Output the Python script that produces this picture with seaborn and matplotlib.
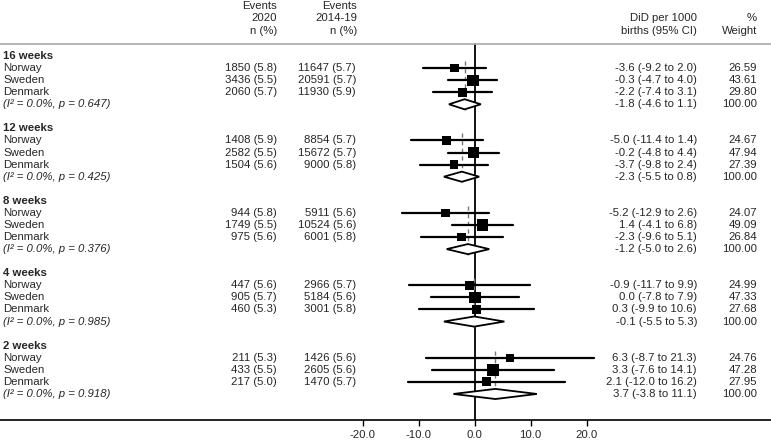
import numpy as np
import matplotlib
matplotlib.use("Agg")
import matplotlib.pyplot as plt
import seaborn as sns
import pandas as pd
from matplotlib.patches import Polygon

sns.set_theme(style="white")
plt.rcParams['font.family'] = ['Liberation Sans', 'DejaVu Sans']

# data
groups = ["16 weeks", "12 weeks", "8 weeks", "4 weeks", "2 weeks"]
countries = ["Norway", "Sweden", "Denmark"]
n2020 = [[1850, 3436, 2060], [1408, 2582, 1504], [944, 1749, 975], [447, 905, 460], [211, 433, 217]]
pct2020 = [[5.8, 5.5, 5.7], [5.9, 5.5, 5.6], [5.8, 5.5, 5.6], [5.6, 5.7, 5.3], [5.3, 5.5, 5.0]]
n1419 = [[11647, 20591, 11930], [8854, 15672, 9000], [5911, 10524, 6001], [2966, 5184, 3001], [1426, 2605, 1470]]
pct1419 = [[5.7, 5.7, 5.9], [5.7, 5.7, 5.8], [5.6, 5.6, 5.8], [5.7, 5.6, 5.8], [5.6, 5.6, 5.7]]
did = [[-3.6, -0.3, -2.2], [-5.0, -0.2, -3.7], [-5.2, 1.4, -2.3], [-0.9, 0.0, 0.3], [6.3, 3.3, 2.1]]
lo = [[-9.2, -4.7, -7.4], [-11.4, -4.8, -9.8], [-12.9, -4.1, -9.6], [-11.7, -7.8, -9.9], [-8.7, -7.6, -12.0]]
hi = [[2.0, 4.0, 3.1], [1.4, 4.4, 2.4], [2.6, 6.8, 5.1], [9.9, 7.9, 10.6], [21.3, 14.1, 16.2]]
weight = [[26.59, 43.61, 29.80], [24.67, 47.94, 27.39], [24.07, 49.09, 26.84], [24.99, 47.33, 27.68], [24.76, 47.28, 27.95]]
pool_est = [-1.8, -2.3, -1.2, -0.1, 3.7]
pool_lo = [-4.6, -5.5, -5.0, -5.5, -3.8]
pool_hi = [1.1, 0.8, 2.6, 5.3, 11.1]
het_p = [0.647, 0.425, 0.376, 0.985, 0.918]
xticks = [-20, -10, 0, 10, 20]

W, H = 771, 443
fig = plt.figure(figsize=(W / 100, H / 100), dpi=100)
ax = fig.add_axes([0, (H - 420) / H, 1, 420 / H])
x0px, pxper = 474.7, 5.6
ax.set_xlim(-x0px / pxper, (W - x0px) / pxper)
rowpx = 12.07
top_row = -56 / rowpx
bot_row = (420 - 56) / rowpx
ax.set_ylim(bot_row, top_row)

fs = 8.2
tr = ax.get_yaxis_transform()
def px(x):
    return x / W
def py(y):
    return (y - 56) / rowpx

# header
for txt, y in [("Events", 6), ("2020", 17.5), ("n (%)", 30.5)]:
    ax.text(px(277), py(y), txt, transform=tr, ha="right", va="center", fontsize=fs)
for txt, y in [("Events", 6), ("2014-19", 17.5), ("n (%)", 30.5)]:
    ax.text(px(357), py(y), txt, transform=tr, ha="right", va="center", fontsize=fs)
for txt, y in [("DiD per 1000", 17.5), ("births (95% CI)", 30.5)]:
    ax.text(px(697), py(y), txt, transform=tr, ha="right", va="center", fontsize=fs)
for txt, y in [("%", 17.5), ("Weight", 30.5)]:
    ax.text(px(757), py(y), txt, transform=tr, ha="right", va="center", fontsize=fs)
ax.axhline(-1, color="#aaaaaa", lw=1.2)

# build long table of study rows
rows = []
for g in range(len(groups)):
    base = g * 6
    for c in range(3):
        rows.append(dict(row=base + 1 + c, est=did[g][c], lo=lo[g][c], hi=hi[g][c], w=weight[g][c]))
df = pd.DataFrame(rows)

ax.axvline(0, ymin=0, ymax=(bot_row + 1) / (bot_row - top_row), color="black", lw=1.3, zorder=1)

for g in range(len(groups)):
    base = g * 6
    ax.text(px(3), base, groups[g], transform=tr, ha="left", va="center", fontsize=fs, fontweight="bold")
    for c in range(3):
        r = base + 1 + c
        ax.text(px(3), r, countries[c], transform=tr, ha="left", va="center", fontsize=fs)
        ax.text(px(277), r, f"{n2020[g][c]} ({pct2020[g][c]:.1f})", transform=tr, ha="right", va="center", fontsize=fs)
        ax.text(px(356), r, f"{n1419[g][c]} ({pct1419[g][c]:.1f})", transform=tr, ha="right", va="center", fontsize=fs)
        ax.text(px(697), r, f"{did[g][c]:.1f} ({lo[g][c]:.1f} to {hi[g][c]:.1f})", transform=tr, ha="right", va="center", fontsize=fs)
        ax.text(px(757), r, f"{weight[g][c]:.2f}", transform=tr, ha="right", va="center", fontsize=fs)
        ax.plot([lo[g][c], hi[g][c]], [r, r], color="black", lw=1.6, zorder=2)
    pr = base + 4
    ax.text(px(3), pr, f"(I\u00b2 = 0.0%, p = {het_p[g]:.3f})", transform=tr, ha="left", va="center", fontsize=fs, style="italic")
    ax.text(px(697), pr, f"{pool_est[g]:.1f} ({pool_lo[g]:.1f} to {pool_hi[g]:.1f})", transform=tr, ha="right", va="center", fontsize=fs)
    ax.text(px(757), pr, "100.00", transform=tr, ha="right", va="center", fontsize=fs)
    ax.plot([pool_est[g], pool_est[g]], [base + 0.4, pr + 0.45], color="#777777", lw=1.0, ls=(0, (3, 2.5)), zorder=1.5)
    dia = Polygon([(pool_lo[g], pr), (pool_est[g], pr - 0.42), (pool_hi[g], pr), (pool_est[g], pr + 0.42)],
                  closed=True, facecolor="white", edgecolor="black", lw=1.3, zorder=3)
    ax.add_patch(dia)

sns.scatterplot(data=df, x="est", y="row", marker="s", s=df["w"] * 1.5, color="black",
                edgecolor="black", linewidth=0, ax=ax, zorder=4, legend=False)

ax.set_xticks(xticks)
ax.set_xticklabels([f"{t:.1f}" for t in xticks], fontsize=fs)
ax.set_yticks([])
ax.set_xlabel("")
ax.set_ylabel("")
for s in ["top", "left", "right"]:
    ax.spines[s].set_visible(False)
ax.spines["bottom"].set_color("black")
ax.spines["bottom"].set_linewidth(1.2)
ax.tick_params(axis="x", direction="out", length=4, width=1, color="black", pad=3, bottom=True)

fig.savefig("out.png", dpi=100)
